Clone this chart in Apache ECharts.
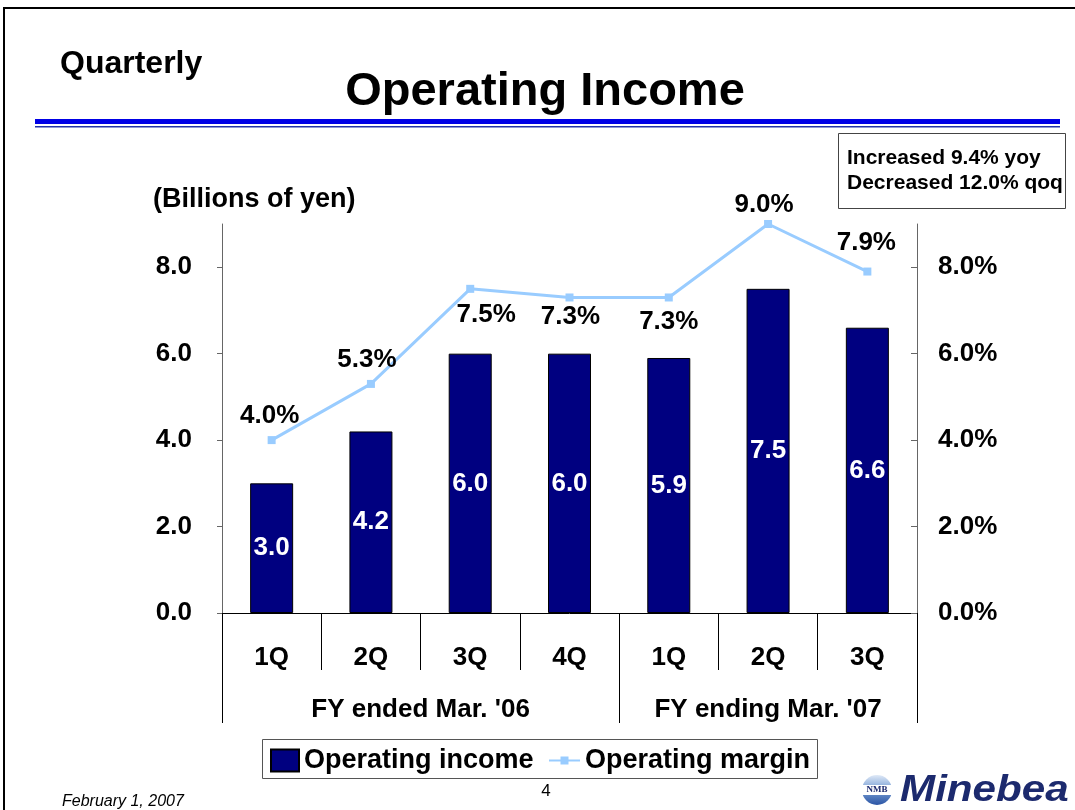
<!DOCTYPE html>
<html>
<head>
<meta charset="utf-8">
<title>Operating Income</title>
<script src="https://cdn.jsdelivr.net/npm/echarts@6/dist/echarts.min.js"></script>
<style>
  html, body { margin: 0; padding: 0; background: #ffffff; }
  #chart { width: 1075px; height: 810px; }
</style>
</head>
<body>
<div id="chart"></div>
<script>
// Quarter labels along the category axis
const quarters = ['1Q', '2Q', '3Q', '4Q', '1Q', '2Q', '3Q'];
// Fiscal-year groups and how many quarters each one covers
const fiscalYears = ["FY ended Mar. '06", "FY ending Mar. '07"];
const fiscalYearSpans = [4, 3];
// Operating income, billions of yen
const operatingIncome = [3.0, 4.2, 6.0, 6.0, 5.9, 7.5, 6.6];
// Operating margin, percent
const operatingMargin = [4.0, 5.3, 7.5, 7.3, 7.3, 9.0, 7.9];
// Tick values for both value axes
const incomeTicks = [0, 2, 4, 6, 8];
const marginTicks = [0, 2, 4, 6, 8];
// Summary box lines
const summaryLines = ['Increased 9.4% yoy', 'Decreased 12.0% qoq'];

const FONT = "'Liberation Sans', Arial, Helvetica, sans-serif";

// Group boundaries and centres on a 0..N scale that lines up with the quarter bands
const groupEdges = [0];
fiscalYearSpans.forEach(s => groupEdges.push(groupEdges[groupEdges.length - 1] + s));
const groupCenters = fiscalYearSpans.map((s, i) => groupEdges[i] + s / 2);

// Where each margin label sits relative to its point
const marginLabelPlacement = [
  { position: 'top', distance: 7, offset: [-2, 0] },
  { position: 'top', distance: 7, offset: [-4, 0] },
  { position: 'bottom', distance: 9, offset: [16, 0] },
  { position: 'bottom', distance: 2, offset: [1, 0] },
  { position: 'bottom', distance: 7, offset: [0, 0] },
  { position: 'top', distance: 2, offset: [-4, 0] },
  { position: 'top', distance: 12, offset: [-1, 0] }
];

const chart = echarts.init(document.getElementById('chart'), null, { renderer: 'canvas' });

const boldText = (size) => ({ fontFamily: FONT, fontWeight: 'bold', fontSize: size, color: '#000' });

chart.setOption({
  backgroundColor: '#ffffff',
  animation: false,
  textStyle: { fontFamily: FONT },
  grid: { left: 222, right: 158, top: 224, bottom: 197, containLabel: false },
  legend: [
    {
      left: 270,
      top: 747,
      padding: 0,
      itemWidth: 28,
      itemHeight: 22,
      textStyle: boldText(27),
      data: [{ name: 'Operating income', icon: 'rect' }]
    },
    {
      left: 548,
      top: 747,
      padding: 0,
      itemWidth: 31,
      itemHeight: 10,
      textStyle: boldText(27),
      data: [{ name: 'Operating margin' }]
    }
  ],
  xAxis: [
    {
      type: 'category',
      data: quarters,
      boundaryGap: true,
      position: 'bottom',
      axisLine: { show: true, lineStyle: { color: '#000', width: 1 } },
      axisTick: { show: true, interval: 0, length: 57, lineStyle: { color: '#000', width: 1 } },
      axisLabel: Object.assign({ interval: 0, margin: 32 }, boldText(26)),
      splitLine: { show: false }
    },
    {
      type: 'value',
      min: 0,
      max: quarters.length,
      position: 'bottom',
      axisLine: { show: false },
      axisTick: { show: true, customValues: groupEdges, length: 110, lineStyle: { color: '#000', width: 1 } },
      axisLabel: Object.assign({
        customValues: groupCenters,
        margin: 84,
        formatter: v => fiscalYears[groupCenters.indexOf(v)] || ''
      }, boldText(26)),
      splitLine: { show: false }
    }
  ],
  yAxis: [
    {
      type: 'value',
      min: 0,
      max: 9,
      position: 'left',
      axisLine: { show: true, lineStyle: { color: '#666', width: 1 } },
      axisTick: { show: true, inside: false, length: 5, customValues: incomeTicks, lineStyle: { color: '#666' } },
      axisLabel: Object.assign({ customValues: incomeTicks, margin: 30, formatter: v => v.toFixed(1) }, boldText(26)),
      splitLine: { show: false }
    },
    {
      type: 'value',
      min: 0,
      max: 9,
      position: 'right',
      axisLine: { show: true, lineStyle: { color: '#666', width: 1 } },
      axisTick: { show: true, inside: true, length: 6, customValues: marginTicks, lineStyle: { color: '#666' } },
      axisLabel: Object.assign({ customValues: marginTicks, margin: 21, formatter: v => v.toFixed(1) + '%' }, boldText(26)),
      splitLine: { show: false }
    }
  ],
  series: [
    {
      name: 'Operating income',
      type: 'bar',
      xAxisIndex: 0,
      yAxisIndex: 0,
      data: operatingIncome,
      barWidth: 43,
      itemStyle: { color: '#000080', borderColor: '#000', borderWidth: 1 },
      label: Object.assign({
        show: true,
        position: 'inside',
        formatter: p => p.value.toFixed(1)
      }, boldText(26), { color: '#ffffff' }),
      z: 2
    },
    {
      name: 'Operating margin',
      type: 'line',
      xAxisIndex: 0,
      yAxisIndex: 1,
      data: operatingMargin.map((v, i) => ({ value: v, label: marginLabelPlacement[i] })),
      symbol: 'rect',
      symbolSize: 8,
      lineStyle: { color: '#99CCFF', width: 3 },
      itemStyle: { color: '#99CCFF' },
      label: Object.assign({
        show: true,
        formatter: p => p.value.toFixed(1) + '%'
      }, boldText(26)),
      z: 3
    }
  ],
  graphic: [
    // slide frame
    { type: 'rect', shape: { x: 4, y: 8, width: 1100, height: 900 }, style: { fill: 'none', stroke: '#000', lineWidth: 2 }, silent: true },
    // header
    { type: 'text', left: 60, top: 48, style: { text: 'Quarterly', font: "bold 32px 'Liberation Sans', Arial, sans-serif", fill: '#000' } },
    { type: 'text', x: 545, y: 92, style: { text: 'Operating Income', font: "bold 47px 'Liberation Sans', Arial, sans-serif", fill: '#000', textAlign: 'center', textVerticalAlign: 'middle' } },
    { type: 'rect', shape: { x: 35, y: 119, width: 1025, height: 5 }, style: { fill: '#0000E6' }, silent: true },
    { type: 'rect', shape: { x: 35, y: 126, width: 1025, height: 1.5 }, style: { fill: '#2233AA' }, silent: true },
    // summary box
    { type: 'rect', shape: { x: 838.5, y: 133.5, width: 227, height: 75 }, style: { fill: '#fff', stroke: '#444', lineWidth: 1 } },
    { type: 'text', x: 847, y: 158, style: { text: summaryLines[0], font: "bold 21px 'Liberation Sans', Arial, sans-serif", fill: '#000', textVerticalAlign: 'middle' } },
    { type: 'text', x: 847, y: 183, style: { text: summaryLines[1], font: "bold 21px 'Liberation Sans', Arial, sans-serif", fill: '#000', textVerticalAlign: 'middle' } },
    // unit caption
    { type: 'text', x: 153, y: 200, style: { text: '(Billions of yen)', font: "bold 27px 'Liberation Sans', Arial, sans-serif", fill: '#000', textVerticalAlign: 'middle' } },
    // legend frame
    { type: 'rect', z: -1, shape: { x: 262.5, y: 739.5, width: 555, height: 39 }, style: { fill: '#fff', stroke: '#555', lineWidth: 1 } },
    // footer
    { type: 'text', x: 62, y: 802, style: { text: 'February 1, 2007', font: "italic 16px 'Liberation Sans', Arial, sans-serif", fill: '#000', textVerticalAlign: 'middle' } },
    { type: 'text', x: 546, y: 791, style: { text: '4', font: "17px 'Liberation Sans', Arial, sans-serif", fill: '#000', textAlign: 'center', textVerticalAlign: 'middle' } },
    // company mark
    {
      type: 'circle', shape: { cx: 877, cy: 790, r: 15 },
      style: {
        fill: new echarts.graphic.LinearGradient(0, 0, 0, 1, [
          { offset: 0, color: '#dfe9f7' },
          { offset: 0.45, color: '#7ea3d6' },
          { offset: 1, color: '#2b55a5' }
        ])
      }
    },
    { type: 'rect', shape: { x: 862, y: 785, width: 30, height: 10 }, style: { fill: '#ffffff' } },
    { type: 'text', x: 877, y: 790, style: { text: 'NMB', font: "bold 9px 'Liberation Serif', serif", fill: '#1c2a6e', textAlign: 'center', textVerticalAlign: 'middle' } },
    { type: 'text', x: 900, y: 791, scaleX: 1.14, originX: 0, originY: 0, style: { text: 'Minebea', font: "italic bold 37px 'Liberation Sans', Arial, sans-serif", fill: '#1c2a6e', textVerticalAlign: 'middle' } }
  ]
});
</script>
</body>
</html>
